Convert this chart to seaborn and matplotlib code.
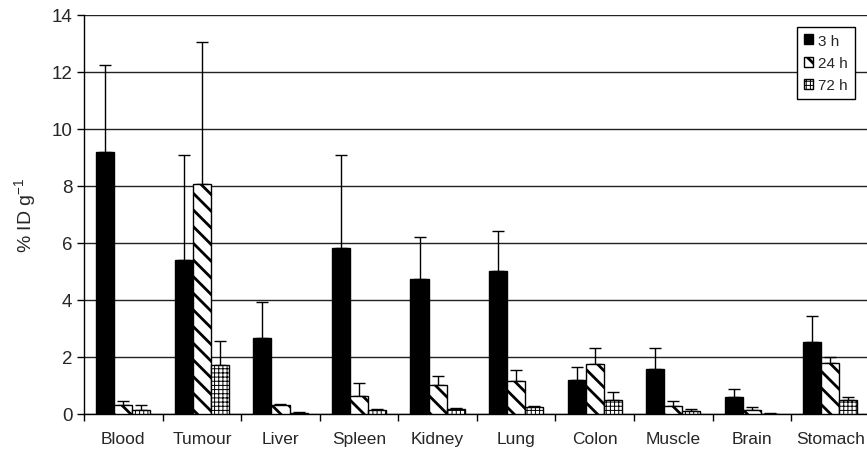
import numpy as np
import pandas as pd
import matplotlib
matplotlib.use("Agg")
import matplotlib.pyplot as plt
import seaborn as sns

organs = ["Blood", "Tumour", "Liver", "Spleen", "Kidney", "Lung", "Colon", "Muscle", "Brain", "Stomach"]
times = ["3 h", "24 h", "72 h"]
mean_3h = [9.2, 5.4, 2.68, 5.81, 4.74, 5.03, 1.2, 1.57, 0.58, 2.51]
upper_3h = [12.25, 9.1, 3.92, 9.1, 6.22, 6.42, 1.64, 2.3, 0.87, 3.45]
mean_24h = [0.3, 8.05, 0.33, 0.62, 1.03, 1.16, 1.74, 0.29, 0.13, 1.78]
upper_24h = [0.45, 13.05, 0.35, 1.08, 1.32, 1.55, 2.3, 0.46, 0.25, 2.0]
mean_72h = [0.15, 1.72, 0.05, 0.14, 0.19, 0.26, 0.5, 0.1, 0.01, 0.5]
upper_72h = [0.3, 2.55, 0.07, 0.16, 0.22, 0.28, 0.76, 0.16, 0.02, 0.58]
y_ticks = [0, 2, 4, 6, 8, 10, 12, 14]

sns.set_style("white")
plt.rcParams["font.family"] = ["Liberation Sans", "DejaVu Sans"]
plt.rcParams["mathtext.fontset"] = "custom"
plt.rcParams["mathtext.rm"] = "Liberation Sans"
plt.rcParams["mathtext.default"] = "regular"
plt.rcParams["hatch.linewidth"] = 2.0

df = pd.DataFrame({
    "organ": organs * 3,
    "time": [t for t in times for _ in organs],
    "value": mean_3h + mean_24h + mean_72h,
})
uppers = {"3 h": upper_3h, "24 h": upper_24h, "72 h": upper_72h}
means = {"3 h": mean_3h, "24 h": mean_24h, "72 h": mean_72h}

fig = plt.figure(figsize=(8.67, 4.52), dpi=100)
ax = fig.add_axes([0.097, 0.082, 0.906, 0.883])

sns.barplot(data=df, x="organ", y="value", hue="time", order=organs, hue_order=times,
            palette=["black", "white", "white"], width=0.69, edgecolor="black",
            linewidth=1.0, errorbar=None, ax=ax, zorder=3, saturation=1)

hatches = [None, "\\\\", "++++"]
hatch_lw = [1.0, 2.0, 0.7]


def style_patch(p, h, lw):
    if h:
        p.set_hatch(h)
        if hasattr(p, "set_hatch_linewidth"):
            p.set_hatch_linewidth(lw)


for cont, t, h, lw in zip(ax.containers, times, hatches, hatch_lw):
    xs = []
    for p in cont.patches:
        style_patch(p, h, lw)
        xs.append(p.get_x() + p.get_width() / 2)
    m = np.array(means[t])
    u = np.array(uppers[t])
    ax.errorbar(xs, m, yerr=[np.zeros_like(m), u - m], fmt="none", ecolor="black",
                elinewidth=1.0, capsize=4, capthick=1.0, zorder=2)

ax.set_ylim(0, 14)
ax.set_xlim(-0.5, len(organs) - 0.5)
ax.set_yticks(y_ticks)
ax.yaxis.grid(True, color="#222222", linewidth=1.0, zorder=0)
ax.set_axisbelow(True)
for s in ["top", "right"]:
    ax.spines[s].set_visible(False)
for s in ["left", "bottom"]:
    ax.spines[s].set_color("black")
    ax.spines[s].set_linewidth(1.0)

ax.set_xticks(np.arange(-0.5, len(organs), 1.0), minor=True)
ax.tick_params(axis="x", which="major", length=0, labelsize=12.5, pad=12)
ax.tick_params(axis="x", which="minor", length=5, width=1, direction="out", color="black", bottom=True)
ax.tick_params(axis="y", length=5, width=1, direction="out", color="black", left=True, labelsize=13.5)
ax.set_xlabel("")
ax.set_ylabel("% ID g$^{-1}$", fontsize=14, labelpad=10)

leg = ax.legend(loc="upper right", bbox_to_anchor=(0.981, 0.97), frameon=True, fancybox=False,
                edgecolor="black", framealpha=1, fontsize=11, handlelength=0.6, handleheight=0.6,
                handletextpad=0.3, borderpad=0.45, labelspacing=0.55, borderaxespad=0)
leg.get_frame().set_linewidth(1.0)
for hdl, h, lw in zip(leg.legend_handles, hatches, hatch_lw):
    hdl.set_edgecolor("black")
    style_patch(hdl, h, lw)

fig.savefig("out.png", dpi=100)
